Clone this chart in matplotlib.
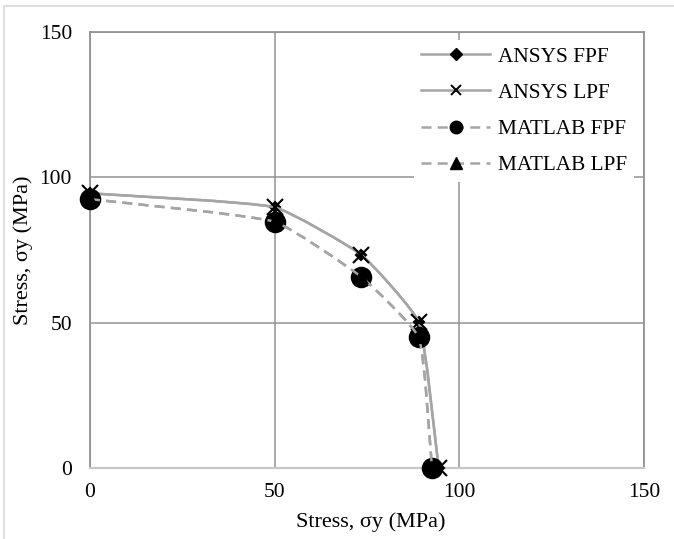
import numpy as np
import matplotlib
matplotlib.use("Agg")
import matplotlib.pyplot as plt
from matplotlib.path import Path
from matplotlib.patches import PathPatch, Rectangle
from matplotlib.lines import Line2D

plt.rcParams['font.family'] = ['Liberation Serif', 'DejaVu Serif']

# data
ansys_x = [0, 50, 73.5, 89, 94.4]
ansys_fpf_y = [94.5, 89.7, 73.3, 50.2, 0]
ansys_lpf_y = [94.5, 89.7, 73.3, 50.2, 0]
matlab_x = [0, 50, 73.5, 89, 92.6]
matlab_fpf_y = [92.5, 84.7, 65.7, 44.9, 0]
matlab_lpf_y = [92.5, 84.7, 65.7, 44.9, 0]

ticks = [0, 50, 100, 150]
GRAY = '#A5A5A5'
GRID = '#939393'
FS_TICK = 15.5
FS_LAB = 16
FS_LEG = 15.3

# pixels per data unit (for the smoothing only)
SX, SY = 554 / 150, 436 / 150


def smooth_path(xs, ys, k=0.14):
    # lightly smoothed line, tangents worked out in screen space
    pts = np.column_stack([np.array(xs) * SX, np.array(ys) * SY])
    n = len(pts)
    tang = []
    for i in range(n):
        d = pts[min(i + 1, n - 1)] - pts[max(i - 1, 0)]
        tang.append(d / np.hypot(*d))
    verts = [pts[0]]
    codes = [Path.MOVETO]
    for i in range(n - 1):
        L = np.hypot(*(pts[i + 1] - pts[i]))
        verts += [pts[i] + tang[i] * L * k, pts[i + 1] - tang[i + 1] * L * k, pts[i + 1]]
        codes += [Path.CURVE4] * 3
    verts = np.array(verts) / [SX, SY]
    return Path(verts, codes)


fig = plt.figure(figsize=(6.74, 5.39), dpi=100)
ax = fig.add_axes([90/674, 1-468/539, 554/674, 436/539])

dash = (0, (4, 2.5))
series = [
    (ansys_x, ansys_fpf_y, '-', 'D', 5, 'ANSYS FPF'),
    (ansys_x, ansys_lpf_y, '-', 'x', 12, 'ANSYS LPF'),
    (matlab_x, matlab_fpf_y, dash, 'o', 14, 'MATLAB FPF'),
    (matlab_x, matlab_lpf_y, dash, '^', 8, 'MATLAB LPF'),
]
for z, (xs, ys, ls, mk, ms, lab) in enumerate(series):
    ax.add_patch(PathPatch(smooth_path(xs, ys), fill=False, edgecolor=GRAY,
                           lw=1.8, linestyle=ls, zorder=3 + z, capstyle='butt'))
    ax.plot(xs, ys, linestyle='none', marker=mk, ms=ms, color='black',
            mew=1.5, zorder=3 + z, clip_on=False)

ax.set_xlim(0, 150)
ax.set_ylim(0, 150)
ax.set_xticks(ticks)
ax.set_yticks(ticks)
ax.tick_params(length=0, labelsize=FS_TICK, colors='black')
ax.tick_params(axis='y', pad=13)
ax.tick_params(axis='x', pad=11)
ax.grid(True, color=GRID, lw=1.1)
ax.set_axisbelow(True)
for s in ['top', 'left', 'right']:
    ax.spines[s].set_color(GRID)
    ax.spines[s].set_linewidth(1.3)
ax.spines['bottom'].set_color('#C8C8C8')
ax.spines['bottom'].set_linewidth(1.6)

fig.text(371/674, 1-522/539, 'Stress, σy (MPa)', ha='center', va='center', fontsize=FS_LAB)
fig.text(23/674, 1-250/539, 'Stress, σy (MPa)', ha='center', va='center',
         rotation=90, fontsize=FS_LAB)

handles = [
    Line2D([], [], color=GRAY, lw=1.8, ls='-', marker='D', ms=6,
           mfc='black', mec='black'),
    Line2D([], [], color=GRAY, lw=1.8, ls='-', marker='x', ms=7,
           mec='black', mew=1.4),
    Line2D([], [], color=GRAY, lw=1.8, ls=dash, marker='o', ms=9,
           mfc='black', mec='black'),
    Line2D([], [], color=GRAY, lw=1.8, ls=dash, marker='^', ms=8,
           mfc='black', mec='black'),
]
leg = ax.legend(handles, [s[5] for s in series], loc='upper left',
                bbox_to_anchor=(414/674, 1-40/539), bbox_transform=fig.transFigure,
                fontsize=FS_LEG, handlelength=3.25, handletextpad=0.38,
                labelspacing=0.76, borderpad=0.33, borderaxespad=0,
                frameon=True, fancybox=False)
leg.get_frame().set_edgecolor('none')
leg.get_frame().set_facecolor('white')
leg.get_frame().set_alpha(1)
leg.set_zorder(20)

fig.add_artist(Rectangle((4/674, -0.1), 1.2, 1.1 - 6/539, fill=False,
                         edgecolor='#D9D9D9', lw=1.2, transform=fig.transFigure))

fig.savefig('out.png', dpi=100)
